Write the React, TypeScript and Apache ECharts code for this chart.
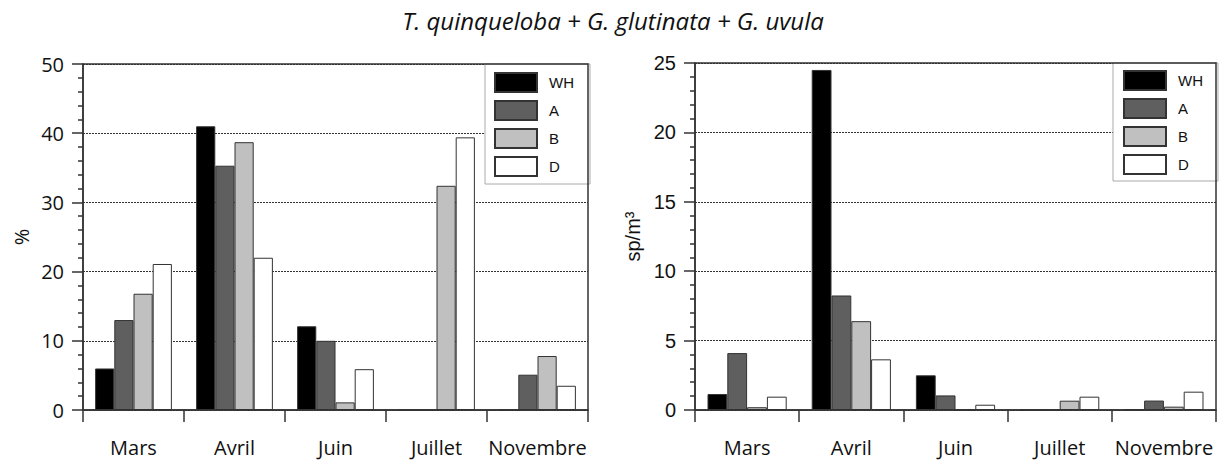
import React, { useEffect, useRef } from "react";
import * as echarts from "echarts";

const categories = ["Mars", "Avril", "Juin", "Juillet", "Novembre"];
const seriesNames = ["WH", "A", "B", "D"];
const seriesColors = ["#000000", "#5f5f5f", "#c0c0c0", "#ffffff"];

// Left panel: %
const pctWH = [6.0, 41.0, 12.1, 0, 0];
const pctA = [13.0, 35.3, 10.0, 0, 5.1];
const pctB = [16.8, 38.7, 1.1, 32.4, 7.8];
const pctD = [21.1, 22.0, 5.9, 39.4, 3.5];

// Right panel: sp/m3
const densWH = [1.15, 24.5, 2.5, 0, 0.05];
const densA = [4.1, 8.25, 1.05, 0, 0.68];
const densB = [0.2, 6.4, 0, 0.67, 0.24];
const densD = [0.96, 3.65, 0.38, 0.96, 1.32];

const titleText = "T. quinqueloba + G. glutinata + G. uvula";
const leftAxisName = "%";
const rightAxisName = "sp/m\u00B3";

const MYRIAD = "'Open Sans', 'Noto Sans', sans-serif";
const ARIAL = "'Liberation Sans', Arial, sans-serif";
const AXIS = "#333333";

function makeX(gridIndex: number) {
  return {
    type: "category",
    gridIndex,
    data: categories,
    axisLine: { show: true, lineStyle: { color: AXIS, width: 1.5 } },
    axisTick: { show: true, length: 12, lineStyle: { color: AXIS, width: 1.5 } },
    axisLabel: { interval: 0, fontFamily: MYRIAD, fontSize: 20, color: "#111", margin: 27 },
    splitLine: { show: false },
  };
}

function makeY(gridIndex: number, max: number, interval: number, name: string, labelFont: string, nameFont: string, labelMargin: number) {
  return {
    type: "value",
    gridIndex,
    min: 0,
    max,
    interval,
    name,
    nameLocation: "middle",
    nameRotate: 90,
    nameGap: 52,
    nameTextStyle: { fontFamily: nameFont, fontSize: 20, color: "#111" },
    axisLine: { show: true, lineStyle: { color: AXIS, width: 1.5 } },
    axisTick: { show: true, length: 11, lineStyle: { color: AXIS, width: 1.5 } },
    minorTick: { show: true, splitNumber: 5, length: 5, lineStyle: { color: AXIS, width: 1.5 } },
    axisLabel: { fontFamily: labelFont, fontSize: 20, color: "#111", margin: labelMargin },
    splitLine: { show: true, lineStyle: { color: "#333", type: [2, 1], width: 1 } },
  };
}

function makeSeries(data: number[][], idx: number) {
  return seriesNames.map((n, i) => ({
    name: n,
    type: "bar",
    xAxisIndex: idx,
    yAxisIndex: idx,
    data: data[i],
    barGap: "0%",
    barCategoryGap: "24%",
    itemStyle: { color: seriesColors[i], borderColor: "#333", borderWidth: 1 },
  }));
}

function makeLegend(left: number, top: number, padding: number[]) {
  return {
    show: true,
    orient: "vertical",
    left,
    top,
    z: 5,
    data: seriesNames,
    icon: "rect",
    itemWidth: 42,
    itemHeight: 19,
    itemGap: 7,
    padding,
    backgroundColor: "#ffffff",
    borderColor: "#aaaaaa",
    borderWidth: 1,
    selectedMode: false,
    textStyle: { fontFamily: ARIAL, fontSize: 15, color: "#111", padding: [0, 0, 0, 7] },
  };
}

export default function App() {
  const ref = useRef<HTMLDivElement>(null);
  useEffect(() => {
    document.body.style.margin = "0";
    const chart = echarts.init(ref.current!, undefined, { renderer: "svg" });
    chart.setOption({
      animation: false,
      backgroundColor: "#ffffff",
      title: {
        text: titleText,
        left: "center",
        top: 3,
        textStyle: { fontFamily: MYRIAD, fontStyle: "italic", fontWeight: "normal", fontSize: 24, color: "#111" },
      },
      grid: [
        { left: 83, top: 64, width: 505, height: 346, show: true, borderColor: AXIS, borderWidth: 1.5, z: 10 },
        { left: 695, top: 63, width: 521, height: 347, show: true, borderColor: AXIS, borderWidth: 1.5, z: 10 },
      ],
      legend: [makeLegend(485, 64, [8, 16, 7, 9]), makeLegend(1113, 63, [7, 15, 6, 10])],
      xAxis: [makeX(0), makeX(1)],
      yAxis: [
        makeY(0, 50, 10, leftAxisName, MYRIAD, MYRIAD, 19),
        makeY(1, 25, 5, rightAxisName, ARIAL, ARIAL, 19),
      ],
      series: [
        ...makeSeries([pctWH, pctA, pctB, pctD], 0),
        ...makeSeries([densWH, densA, densB, densD], 1),
      ],
    });
    return () => chart.dispose();
  }, []);
  return <div ref={ref} style={{ position: "fixed", left: 0, top: 0, width: 1226, height: 461 }} />;
}
